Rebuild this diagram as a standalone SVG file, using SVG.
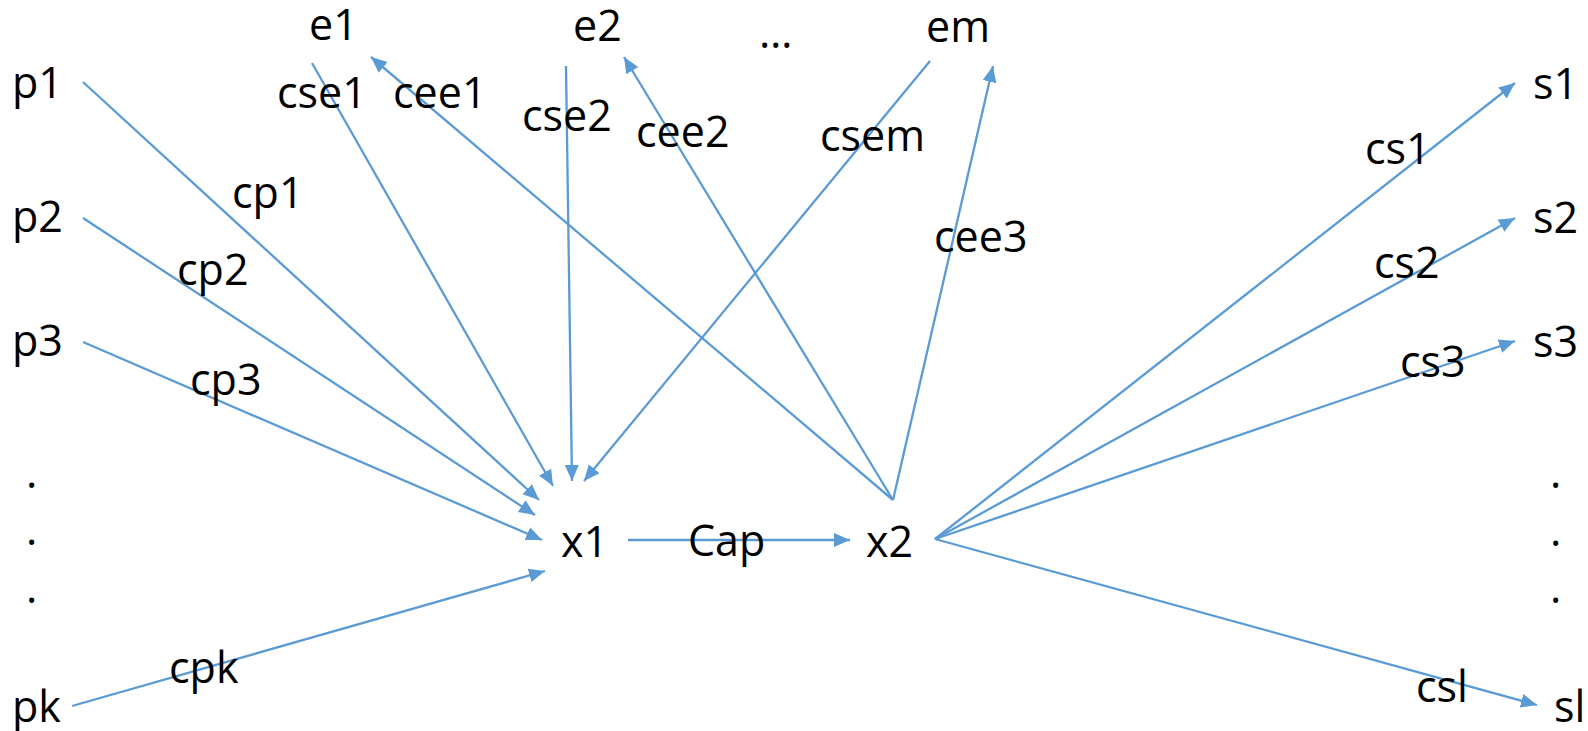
<svg xmlns="http://www.w3.org/2000/svg" width="1588" height="731" viewBox="0 0 1588 731">
<style>
text{font-family:"Open Sans","Noto Sans","Liberation Sans",sans-serif;font-size:43px;fill:#000}
.c{stroke:#5B9BD5;stroke-width:2.3;fill:none}
.a{marker-end:url(#ah)}
</style>
<defs>
<marker id="ah" markerUnits="userSpaceOnUse" markerWidth="17" markerHeight="15" refX="16" refY="7" orient="auto">
<path d="M0,0 L16,7 L0,14 z" fill="#5B9BD5"/>
</marker>
</defs>
<rect width="1588" height="731" fill="#fff"/>
<g id="nodes">
<g id="p1"><text x="12" y="98">p1</text></g>
<g id="p2"><text x="12" y="232">p2</text></g>
<g id="p3"><text x="12" y="356">p3</text></g>
<g id="pdots"><text x="26" y="488">.</text><text x="26" y="545">.</text><text x="26" y="603">.</text></g>
<g id="pk"><text x="12" y="722">pk</text></g>
<g id="e1"><text x="309" y="40">e1</text></g>
<g id="e2"><text x="573" y="41">e2</text></g>
<g id="edots"><text x="759" y="48">…</text></g>
<g id="em"><text x="926" y="42">em</text></g>
<g id="x1"><text x="561" y="557">x1</text></g>
<g id="x2"><text x="866" y="557">x2</text></g>
<g id="s1"><text x="1533" y="99">s1</text></g>
<g id="s2"><text x="1533" y="233">s2</text></g>
<g id="s3"><text x="1533" y="357">s3</text></g>
<g id="sdots"><text x="1550" y="488">.</text><text x="1550" y="546">.</text><text x="1550" y="603">.</text></g>
<g id="sl"><text x="1554" y="722">sl</text></g>
</g>
<g id="connectors">
<g id="c-p1"><line class="c a" x1="83" y1="82" x2="539" y2="500"/><text x="232" y="208">cp1</text></g>
<g id="c-p2"><line class="c a" x1="83" y1="218" x2="535" y2="515"/><text x="177" y="285">cp2</text></g>
<g id="c-p3"><line class="c a" x1="83" y1="342" x2="542" y2="540"/><text x="190" y="395">cp3</text></g>
<g id="c-pk"><line class="c a" x1="72" y1="706" x2="545" y2="571"/><text x="169" y="683">cpk</text></g>
<g id="c-e1"><line class="c a" x1="312" y1="63" x2="553" y2="486"/><text x="277" y="108">cse1</text></g>
<g id="c-e2"><line class="c a" x1="566" y1="66" x2="572" y2="481"/><text x="522" y="131">cse2</text></g>
<g id="c-em"><line class="c a" x1="930" y1="61" x2="584" y2="481"/><text x="820" y="151">csem</text></g>
<g id="c-ee1"><line class="c a" x1="893" y1="500" x2="371" y2="57"/><text x="393" y="108">cee1</text></g>
<g id="c-ee2"><line class="c a" x1="893" y1="500" x2="624" y2="57"/><text x="636" y="147">cee2</text></g>
<g id="c-ee3"><line class="c a" x1="893" y1="500" x2="993" y2="66"/><text x="934" y="252">cee3</text></g>
<g id="c-cap"><line class="c a" x1="628" y1="540" x2="850" y2="540"/><text x="688" y="556">Cap</text></g>
<g id="c-s1"><line class="c a" x1="935" y1="539" x2="1515" y2="83"/><text x="1365" y="164">cs1</text></g>
<g id="c-s2"><line class="c a" x1="935" y1="539" x2="1515" y2="218"/><text x="1374" y="278">cs2</text></g>
<g id="c-s3"><line class="c a" x1="935" y1="539" x2="1515" y2="341"/><text x="1400" y="377">cs3</text></g>
<g id="c-sl"><line class="c a" x1="935" y1="539" x2="1537" y2="705"/><text x="1416" y="702">csl</text></g>
</g>
</svg>
